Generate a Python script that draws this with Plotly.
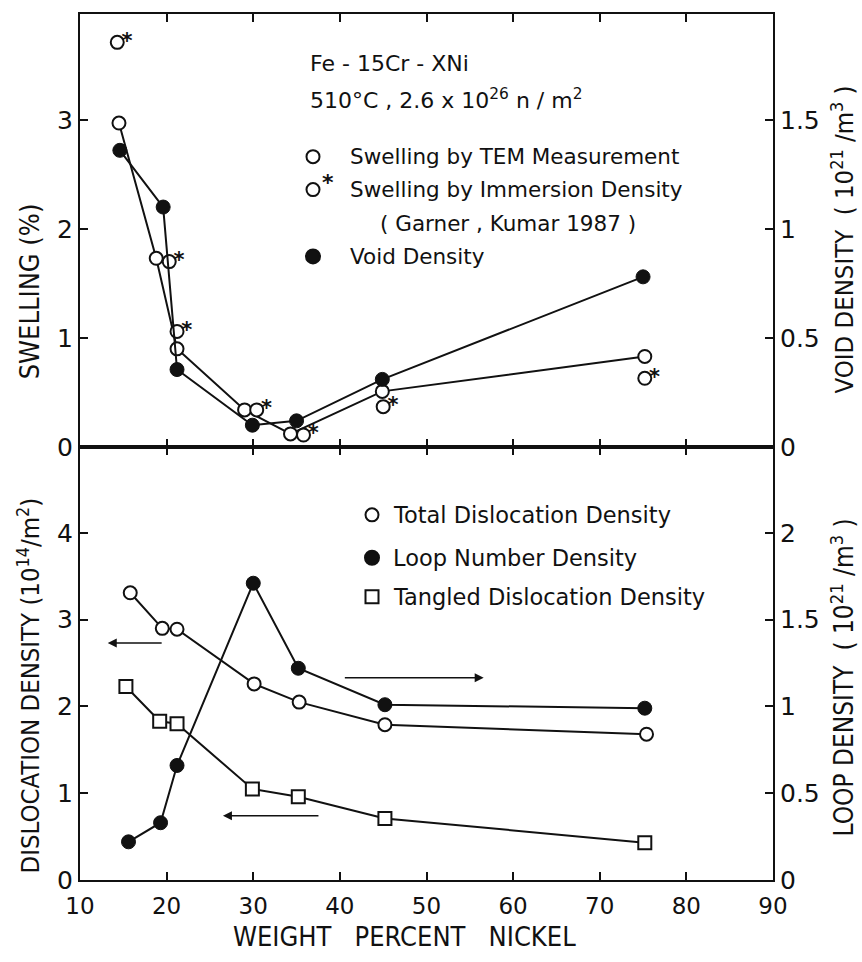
import plotly.graph_objects as go

# ---------------- data ----------------
# Top panel: swelling (%) and void density (10^21/m^3)
tem_x = [14.5, 18.8, 21.2, 29.0, 34.3, 44.9, 75.2]
tem_swelling = [2.97, 1.73, 0.90, 0.34, 0.12, 0.51, 0.83]

imm_x = [14.3, 20.3, 21.2, 30.4, 35.8, 45.0, 75.2]
imm_swelling = [3.71, 1.70, 1.06, 0.34, 0.11, 0.37, 0.63]

void_x = [14.6, 19.6, 21.2, 29.9, 35.0, 44.9, 75.0]
void_density = [1.36, 1.10, 0.355, 0.10, 0.12, 0.31, 0.78]

# Bottom panel: dislocation density (10^14/m^2) and loop density (10^21/m^3)
total_x = [15.8, 19.5, 21.2, 30.1, 35.3, 45.2, 75.4]
total_disl = [3.31, 2.90, 2.89, 2.26, 2.05, 1.79, 1.68]

loop_x = [15.6, 19.3, 21.2, 30.0, 35.2, 45.2, 75.2]
loop_density = [0.22, 0.33, 0.66, 1.71, 1.22, 1.01, 0.99]

tangled_x = [15.3, 19.2, 21.2, 29.9, 35.2, 45.2, 75.2]
tangled_disl = [2.23, 1.83, 1.80, 1.05, 0.96, 0.71, 0.43]

x_ticks = [10, 20, 30, 40, 50, 60, 70, 80, 90]
swell_ticks = [0, 1, 2, 3]
void_ticks = [0, 0.5, 1, 1.5]
disl_ticks = [0, 1, 2, 3, 4]
loop_ticks = [0, 0.5, 1, 1.5, 2]

# ---------------- styling helpers ----------------
W, H = 862, 962
L, R, T, B = 80, 773, 12, 880
FONT = "DejaVu Sans"
NARROW = "Liberation Sans Narrow, DejaVu Sans Condensed, Liberation Sans"
BLACK = "#111111"


def px(xp):
    return (xp - L) / (R - L)


def py(yp):
    return (B - yp) / (B - T)


line_style = dict(color=BLACK, width=2)
open_marker = dict(symbol="circle", size=13, color="white", line=dict(color=BLACK, width=2))
filled_marker = dict(symbol="circle", size=14, color=BLACK, line=dict(color=BLACK, width=1))
square_marker = dict(symbol="square", size=13, color="white", line=dict(color=BLACK, width=2))

fig = go.Figure()

# top panel traces
fig.add_trace(go.Scatter(x=tem_x, y=tem_swelling, mode="lines+markers", line=line_style,
                         marker=open_marker, xaxis="x2", yaxis="y3", showlegend=False))
fig.add_trace(go.Scatter(x=void_x, y=void_density, mode="lines+markers", line=line_style,
                         marker=filled_marker, xaxis="x2", yaxis="y4", showlegend=False))
fig.add_trace(go.Scatter(x=imm_x, y=imm_swelling, mode="markers", marker=open_marker,
                         xaxis="x2", yaxis="y3", showlegend=False))
# asterisks marking immersion-density points
fig.add_trace(go.Scatter(x=imm_x, y=imm_swelling, mode="text",
                         text=["\u2009<b>*</b>"] * len(imm_x), textposition="middle right",
                         textfont=dict(family=FONT, size=21, color=BLACK),
                         xaxis="x2", yaxis="y3", showlegend=False, hoverinfo="skip"))

# bottom panel traces
fig.add_trace(go.Scatter(x=total_x, y=total_disl, mode="lines+markers", line=line_style,
                         marker=open_marker, xaxis="x", yaxis="y", showlegend=False))
fig.add_trace(go.Scatter(x=tangled_x, y=tangled_disl, mode="lines+markers", line=line_style,
                         marker=square_marker, xaxis="x", yaxis="y", showlegend=False))
fig.add_trace(go.Scatter(x=loop_x, y=loop_density, mode="lines+markers", line=line_style,
                         marker=filled_marker, xaxis="x", yaxis="y2", showlegend=False))

tickfont = dict(family=FONT, size=25, color=BLACK)
common_axis = dict(showgrid=False, zeroline=False, showline=True, linecolor=BLACK, linewidth=2,
                   ticks="inside", ticklen=8, tickwidth=1.5, tickcolor=BLACK, tickfont=tickfont)

fig.update_layout(
    width=W, height=H,
    margin=dict(l=L, r=W - R, t=T, b=H - B, pad=0),
    paper_bgcolor="white", plot_bgcolor="white",
    xaxis=dict(**common_axis, domain=[0, 1], range=[10, 90], tickvals=x_ticks,
               anchor="y", mirror="ticks", ticklabelstandoff=4),
    xaxis2=dict(**common_axis, domain=[0, 1], range=[10, 90], tickvals=x_ticks,
                anchor="y3", mirror="ticks", showticklabels=False, matches="x"),
    yaxis=dict(**common_axis, domain=[0, 0.5], range=[0, 4.99], tickvals=disl_ticks,
               anchor="x", side="left"),
    yaxis2=dict(**common_axis, domain=[0, 0.5], range=[0, 2.495], tickvals=loop_ticks,
                ticktext=["0", "0.5", "1", "1.5", "2"],
                anchor="x", overlaying="y", side="right"),
    yaxis3=dict(**common_axis, domain=[0.5, 1], range=[0, 3.97], tickvals=swell_ticks,
                anchor="x2", side="left"),
    yaxis4=dict(**common_axis, domain=[0.5, 1], range=[0, 1.985], tickvals=void_ticks,
                ticktext=["0", "0.5", "1", "1.5"],
                anchor="x2", overlaying="y3", side="right"),
)
fig.update_xaxes(tickfont=dict(family=FONT, size=23, color=BLACK), selector=dict(anchor="y"))

annotations = []


def text(xp, yp, s, size=20, family=FONT, xanchor="left", angle=0):
    annotations.append(dict(x=px(xp), y=py(yp), xref="paper", yref="paper", text=s,
                            showarrow=False, xanchor=xanchor, yanchor="middle",
                            textangle=angle, font=dict(family=family, size=size, color=BLACK)))


# header texts
text(308, 62, "Fe - 15Cr - XNi", size=22)
text(308, 97, "510°C , 2.6 x 10<sup>26</sup> n / m<sup>2</sup>", size=22)

# top legend
text(348, 155, "Swelling by TEM Measurement", size=21.5)
text(348, 188, "Swelling by Immersion Density", size=21.5)
text(378, 222, "( Garner , Kumar 1987 )", size=21.5)
text(348, 255, "Void Density", size=21.5)
text(320, 181, "<b>*</b>", size=22)

# bottom legend
text(391, 514, "Total Dislocation Density", size=22.5)
text(391, 557, "Loop Number Density", size=22.5)
text(391, 596, "Tangled Dislocation Density", size=22.5)

# axis titles
text(29, 290, "SWELLING (%)", size=27, family=NARROW, xanchor="center", angle=-90)
text(29, 685, "DISLOCATION DENSITY (10<sup>14</sup>/m<sup>2</sup>)", size=25.5, family=NARROW,
     xanchor="center", angle=-90)
text(843, 238, "VOID DENSITY  ( 10<sup>21</sup> /m<sup>3</sup> )", size=25.5, family=NARROW,
     xanchor="center", angle=-90)
text(843, 677, "LOOP DENSITY  ( 10<sup>21</sup> /m<sup>3</sup> )", size=26, family=NARROW,
     xanchor="center", angle=-90)
text(404, 937, "WEIGHT   PERCENT   NICKEL", size=27, family=NARROW, xanchor="center")

# arrows (axis indicators) in bottom panel
for head, tail, yv in [(13.2, 19.6, 2.73), (56.6, 40.4, 2.33), (26.5, 37.7, 0.74)]:
    annotations.append(dict(x=head, y=yv, ax=tail, ay=yv, xref="x", yref="y", axref="x", ayref="y",
                            text="", showarrow=True, arrowhead=2, arrowsize=1.2, arrowwidth=1.5,
                            arrowcolor=BLACK))

fig.update_layout(annotations=annotations)

# legend symbols as shapes
shapes = []


def symbol(xp, yp, kind, filled=False, r=6.5):
    shapes.append(dict(type="circle" if kind == "circle" else "rect",
                       xref="paper", yref="paper", xsizemode="pixel", ysizemode="pixel",
                       xanchor=px(xp), yanchor=py(yp), x0=-r, x1=r, y0=-r, y1=r,
                       line=dict(color=BLACK, width=2),
                       fillcolor=BLACK if filled else "white"))


symbol(313, 155, "circle")
symbol(313, 188, "circle")
symbol(313, 255, "circle", filled=True, r=7)
symbol(372, 514, "circle")
symbol(372, 557, "circle", filled=True, r=7)
symbol(372, 596, "square")
fig.update_layout(shapes=shapes)

fig.write_html("out.html")
